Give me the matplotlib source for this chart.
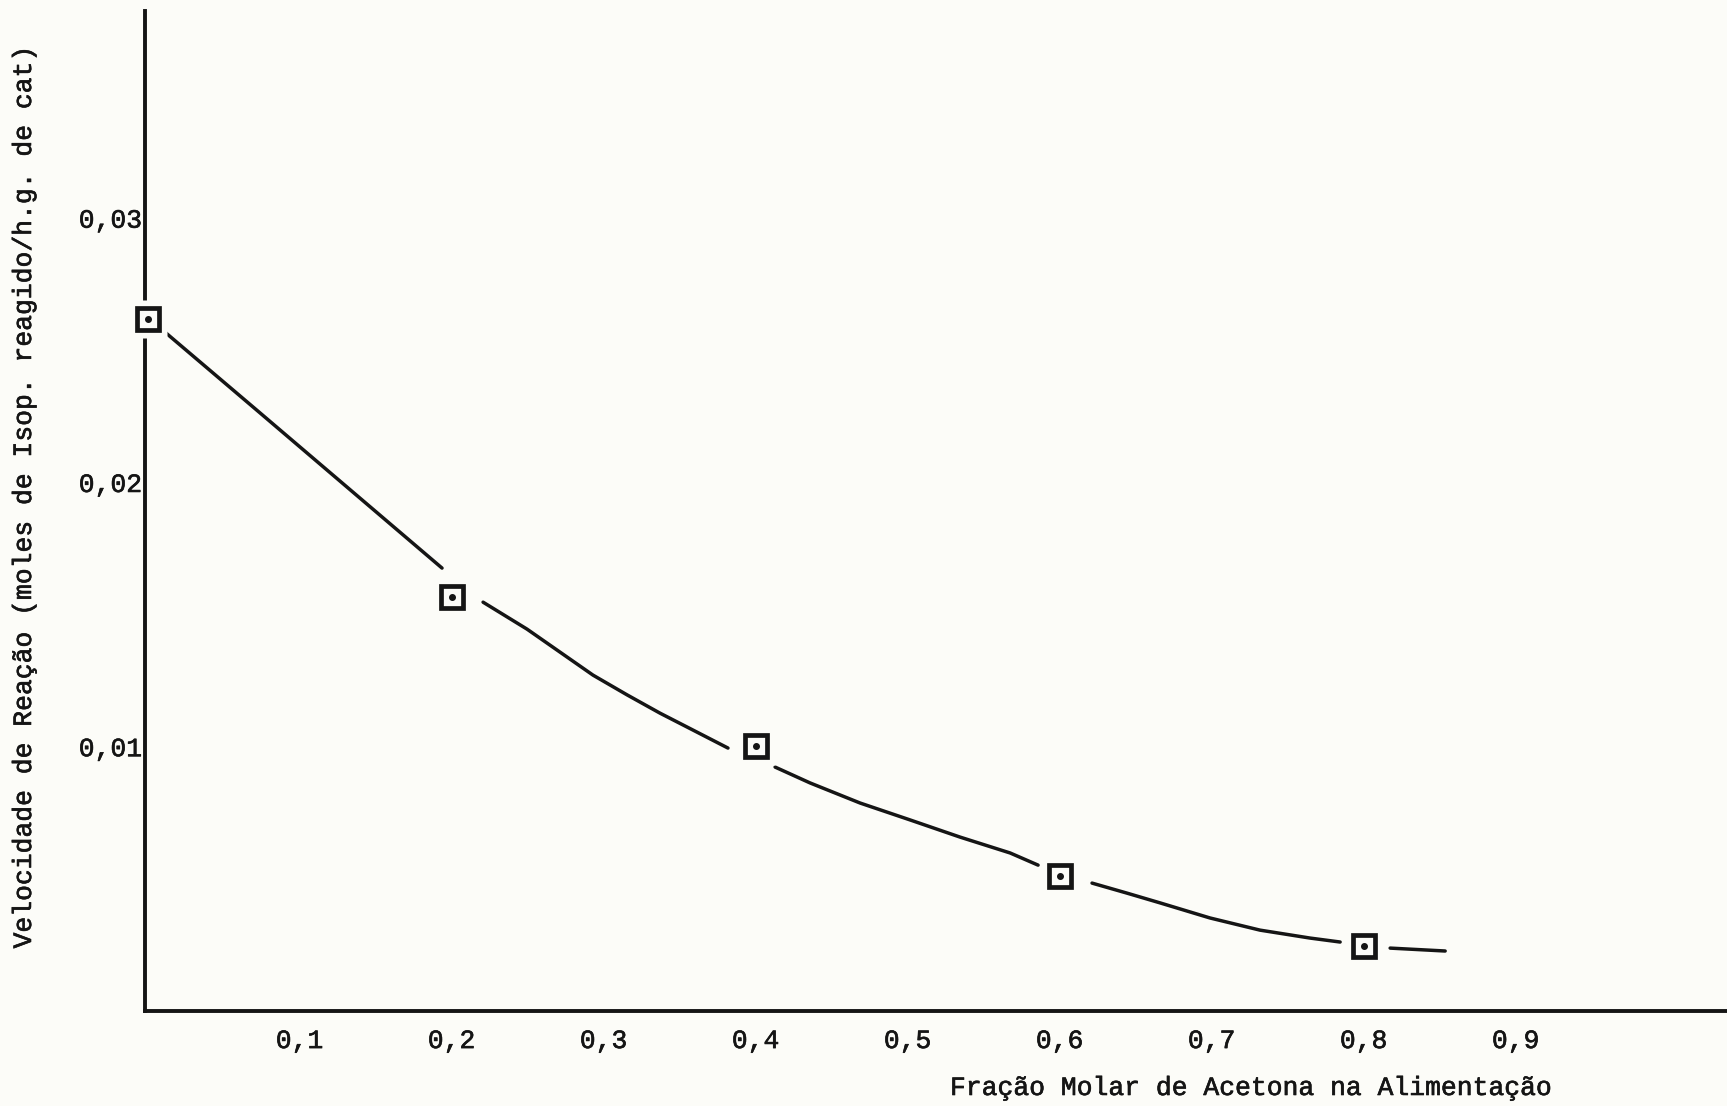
import matplotlib
matplotlib.use("Agg")
import matplotlib.pyplot as plt
import matplotlib.patheffects as pe

# Experimental points (molar fraction of acetone in feed, reaction rate)
x_points = [0.0, 0.2, 0.4, 0.6, 0.8]
y_points = [0.0262, 0.01566, 0.01004, 0.00512, 0.00246]

# Hand-drawn smooth curve (nan = gap at a marker)
nan = float("nan")
x_curve = [0.0114, 0.074, 0.1937, nan,
           0.2207, 0.2496, 0.2713, 0.2930, 0.3155, 0.3371, 0.3588, 0.3818, nan,
           0.4128, 0.4358, 0.4687, 0.5016, 0.5345, 0.5674, 0.5858, nan,
           0.6213, 0.6443, 0.6661, 0.6989, 0.7318, 0.7647, 0.7845, nan,
           0.8174, 0.8536]
y_curve = [0.02569, 0.02263, 0.01676, nan,
           0.01547, 0.01445, 0.01358, 0.01271, 0.01196, 0.01127, 0.01063, 0.00995, nan,
           0.00923, 0.00863, 0.00787, 0.00723, 0.00658, 0.00598, 0.00552, nan,
           0.00484, 0.00446, 0.00409, 0.00352, 0.00306, 0.00276, 0.00261, nan,
           0.00238, 0.00227]

x_ticks = [0.1, 0.2, 0.3, 0.4, 0.5, 0.6, 0.7, 0.8, 0.9]
x_ticklabels = ["0,1", "0,2", "0,3", "0,4", "0,5", "0,6", "0,7", "0,8", "0,9"]
y_ticks = [0.01, 0.02, 0.03]
y_ticklabels = ["0,01", "0,02", "0,03"]

x_label = "Fração Molar de Acetona na Alimentação"
y_label = "Velocidade de Reação (moles de Isop. reagido/h.g. de cat)"

FONT = ["Liberation Mono", "DejaVu Sans Mono"]
FS = 19
BG = "#fcfcf8"
INK = "#151515"
thick = [pe.withStroke(linewidth=0.45, foreground=INK)]

W, H = 1727, 1106
fig = plt.figure(figsize=(W / 100, H / 100), dpi=100, facecolor=BG)
ax = fig.add_axes([145 / W, 1 - 1011 / H, 1 - 145 / W, (1011 - 11) / H])
ax.set_facecolor(BG)

ax.set_xlim(-0.0017, 1.039)
ax.set_ylim(0.0, 0.03784)

for s in ["top", "right"]:
    ax.spines[s].set_visible(False)
for s in ["left", "bottom"]:
    ax.spines[s].set_linewidth(2.8)
    ax.spines[s].set_color(INK)

ax.plot(x_curve, y_curve, color=INK, lw=2.5, zorder=3, solid_capstyle="round")

# background-coloured masks produce the gaps in the axis line around the marker
ax.plot(x_points, y_points, ls="none", marker="s", markersize=27,
        markerfacecolor=BG, markeredgecolor="none", zorder=4, clip_on=False)
ax.plot(x_points, y_points, ls="none", marker="s", markersize=15.5,
        markerfacecolor=BG, markeredgecolor=INK, markeredgewidth=3.4,
        zorder=5, clip_on=False)
ax.plot(x_points, y_points, ls="none", marker="o", markersize=4,
        color=INK, zorder=6, clip_on=False)

ax.set_xticks(x_ticks)
ax.set_xticklabels(x_ticklabels, fontsize=FS, family=FONT, color=INK)
ax.set_yticks(y_ticks)
ax.set_yticklabels(y_ticklabels, fontsize=FS, family=FONT, color=INK)
ax.tick_params(axis="x", length=0, pad=13)
ax.tick_params(axis="y", length=0, pad=2)
for t in ax.get_xticklabels() + ax.get_yticklabels():
    t.set_path_effects(thick)

fig.text(950 / W, 1 - 1088 / H, x_label, ha="left", va="center",
         fontsize=FS, family=FONT, color=INK, path_effects=thick)
fig.text(24 / W, 1 - 496 / H, y_label, ha="center", va="center", rotation=90,
         fontsize=FS, family=FONT, color=INK, path_effects=thick)

fig.savefig("out.png", dpi=100, facecolor=BG)
